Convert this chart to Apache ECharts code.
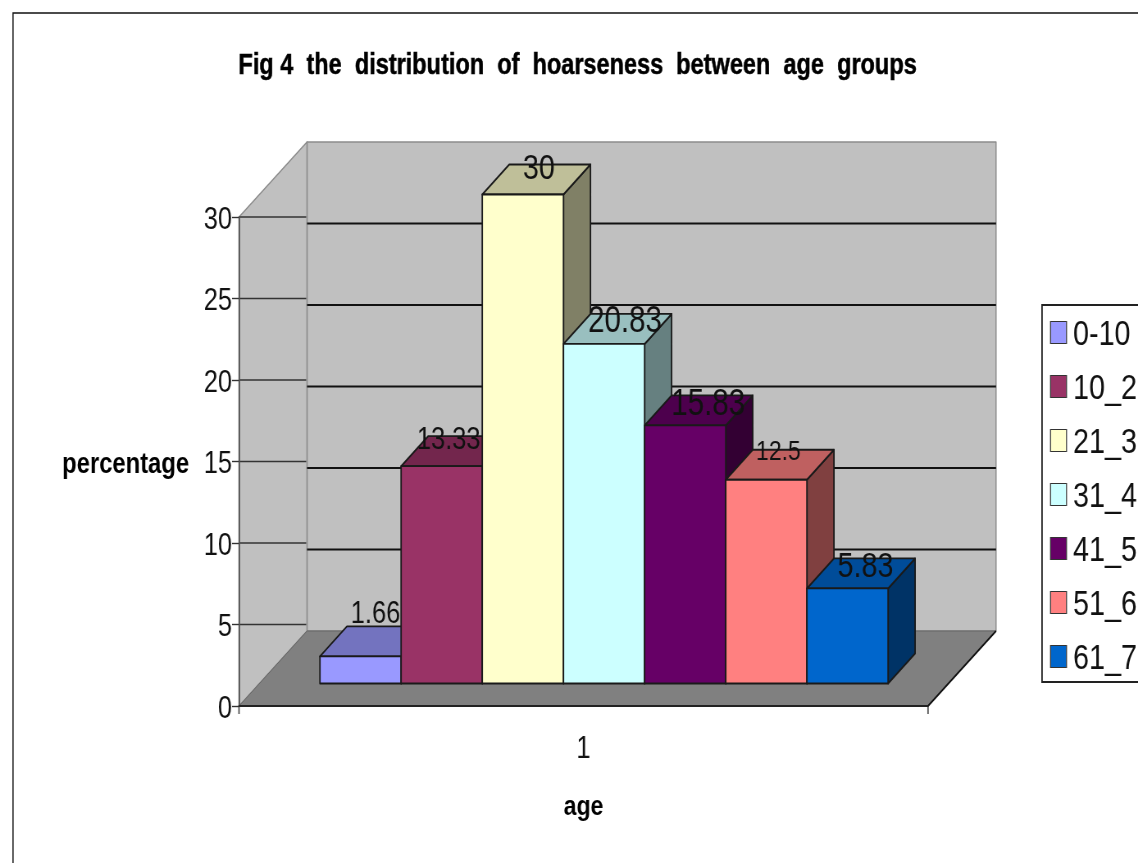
<!DOCTYPE html>
<html>
<head>
<meta charset="utf-8">
<style>
  html, body { margin: 0; padding: 0; background: #fff; overflow: hidden; }
  /* the original picture is squeezed sideways, so the whole chart is too */
  #chart { width: 1388px; height: 863px; transform: scaleX(0.8199); transform-origin: 0 0; }
</style>
<script src="https://cdn.jsdelivr.net/npm/echarts@6/dist/echarts.min.js"></script>
</head>
<body>
<div id="chart"></div>
<script>
const categories = ['1'];
const ageGroups = ['0-10', '10_20', '21_30', '31_40', '41_50', '51_60', '61_70'];
const percentages = [1.66, 13.33, 30, 20.83, 15.83, 12.5, 5.83];
const barColors = ['#9999FF', '#993366', '#FFFFCC', '#CCFFFF', '#660066', '#FF8080', '#0066CC'];
const barTops = ['#7373BF', '#73264D', '#BFBF99', '#99BFBF', '#4D004D', '#BF6060', '#004C99'];
const barSides = ['#4D4D80', '#4D1A33', '#808066', '#668080', '#330033', '#804040', '#003366'];

// Page x to chart x, because of the squeeze
const sx = 1138 / 1388;
const px = x => x / sx;

// Fake 3D offsets, in page pixels
const wallDx = px(68), wallDy = -75;
const frontDx = px(20.5), frontDy = -22.5;
const depthDx = px(27), depthDy = -30;
// The data labels are placed and sized a bit unevenly in the original
const labelNudge = [[15, -42], [7, -26], [16, -25], [21, -22], [23, -20], [12, -27], [18, -21]];
const labelSizes = [31, 31, 35, 36, 36, 28, 35];

const font = '"Liberation Sans", Arial, sans-serif';

function poly(points, fill, stroke, width) {
    return {
        type: 'polygon',
        shape: { points: points },
        style: { fill: fill, stroke: stroke, lineWidth: width, lineJoin: 'round' }
    };
}

function seg(x1, y1, x2, y2, stroke, width) {
    return {
        type: 'line',
        shape: { x1: x1, y1: y1, x2: x2, y2: y2 },
        style: { stroke: stroke, lineWidth: width }
    };
}

// Side wall, back wall, floor and their gridlines
function renderWalls(params, api) {
    const band = api.size([1, 0])[0];
    const centre = api.coord([0, 0]);
    const x0 = centre[0] - band / 2, x1 = centre[0] + band / 2;
    const y0 = centre[1];
    const yTop = api.coord([0, 30])[1];
    const children = [
        poly([[x0 + wallDx, yTop + wallDy], [x1 + wallDx, yTop + wallDy], [x1 + wallDx, y0 + wallDy], [x0 + wallDx, y0 + wallDy]], '#C0C0C0', '#8c8c8c', 1.5),
        poly([[x0, yTop], [x0 + wallDx, yTop + wallDy], [x0 + wallDx, y0 + wallDy], [x0, y0]], '#C0C0C0', '#8c8c8c', 1.5),
        poly([[x0, y0], [x1, y0], [x1 + wallDx, y0 + wallDy], [x0 + wallDx, y0 + wallDy]], '#808080', '#666', 1),
        seg(x1, y0, x1 + wallDx, y0 + wallDy, '#111', 1.8),
        seg(x0, y0, x0, y0 + 8, '#555', 1.8),
        seg(x1, y0, x1, y0 + 8, '#555', 1.8)
    ];
    for (let v = 5; v <= 30; v += 5) {
        const y = api.coord([0, v])[1];
        children.push(seg(x0, y, x0 + wallDx - 1, y, '#333', 1.4));
        if (v < 30) {
            children.push(seg(x0 + wallDx, y + wallDy, x1 + wallDx, y + wallDy, '#111', 1.8));
        }
    }
    return { type: 'group', children: children };
}

function renderBar(params, api) {
    const i = params.seriesIndex - 1;
    const band = api.size([1, 0])[0];
    const w = band * 0.1178;
    const base = api.coord([0, 0]);
    const top = api.coord([0, api.value(1)]);
    const left = base[0] + frontDx - w * ageGroups.length / 2 + i * w;
    const right = left + w;
    const yb = base[1] + frontDy;
    const yt = top[1] + frontDy;
    const edge = '#1a1a1a';
    return {
        type: 'group',
        children: [
            poly([[right, yt], [right + depthDx, yt + depthDy], [right + depthDx, yb + depthDy], [right, yb]], barSides[i], edge, 1.8),
            poly([[left, yt], [left + depthDx, yt + depthDy], [right + depthDx, yt + depthDy], [right, yt]], barTops[i], edge, 1.8),
            poly([[left, yt], [right, yt], [right, yb], [left, yb]], barColors[i], edge, 1.8),
            {
                type: 'text',
                z2: 100,
                style: {
                    x: left + w / 2 + px(labelNudge[i][0]),
                    y: yt + labelNudge[i][1],
                    text: String(api.value(1)),
                    fill: '#111',
                    font: labelSizes[i] + 'px ' + font,
                    align: 'center',
                    verticalAlign: 'middle'
                }
            }
        ]
    };
}

const series = [{
    name: 'walls',
    type: 'custom',
    silent: true,
    renderItem: renderWalls,
    data: [[0, 0]]
}];

ageGroups.forEach((name, i) => {
    series.push({
        name: name,
        type: 'custom',
        renderItem: renderBar,
        encode: { x: 0, y: 1 },
        itemStyle: { color: barColors[i] },
        data: [[0, percentages[i]]]
    });
});

const chart = echarts.init(document.getElementById('chart'));

chart.setOption({
    animation: false,
    backgroundColor: '#fff',
    title: {
        text: 'Fig 4  the  distribution  of  hoarseness  between  age  groups',
        left: px(573.5),
        textAlign: 'center',
        top: 47,
        textStyle: {
            fontFamily: font, fontWeight: 'bold', fontSize: 28.7, color: '#000',
            textBorderColor: '#000', textBorderWidth: 0.5
        }
    },
    legend: {
        data: ageGroups,
        orient: 'vertical',
        left: px(1042),
        top: 305,
        icon: 'rect',
        itemWidth: px(16),
        itemHeight: 22,
        itemGap: 13,
        padding: [7, 110, 5, px(8)],
        borderColor: '#222',
        borderWidth: 1.8,
        backgroundColor: '#fff',
        itemStyle: { borderColor: '#333', borderWidth: 1.2 },
        formatter: name => '{a|' + name + '}',
        textStyle: {
            rich: {
                a: { fontFamily: font, fontSize: 35, lineHeight: 34, color: '#111', padding: [6, 0, 0, 3] }
            }
        }
    },
    grid: { left: px(239), right: px(210), top: 217, bottom: 157, outerBoundsMode: 'none' },
    xAxis: {
        type: 'category',
        data: categories,
        z: 3,
        name: 'age',
        nameLocation: 'middle',
        nameGap: 87,
        nameTextStyle: { fontFamily: font, fontWeight: 'bold', fontSize: 28, color: '#000' },
        axisLine: { lineStyle: { color: '#222', width: 1.8 } },
        axisTick: { show: false },
        axisLabel: { margin: 28, fontFamily: font, fontSize: 31, color: '#111' }
    },
    yAxis: {
        type: 'value',
        min: 0,
        max: 30,
        interval: 5,
        z: 3,
        name: 'percentage',
        nameLocation: 'middle',
        nameRotate: 0,
        nameGap: px(50),
        nameTextStyle: { fontFamily: font, fontWeight: 'bold', fontSize: 29, color: '#000', verticalAlign: 'top', lineHeight: 6 },
        splitLine: { show: false },
        axisLine: { show: true, lineStyle: { color: '#555', width: 1.8 } },
        axisTick: { show: true, length: px(7), lineStyle: { color: '#333', width: 1.4 } },
        axisLabel: { margin: px(7), fontFamily: font, fontSize: 31, color: '#111', verticalAlign: 'top', lineHeight: 6 }
    },
    graphic: [{
        // Chart frame runs off the right and bottom of the page
        type: 'rect',
        z: -1,
        silent: true,
        shape: { x: px(13), y: 13, width: 1600, height: 1000 },
        style: { fill: 'none', stroke: '#111', lineWidth: 1.5 }
    }],
    series: series
});
</script>
</body>
</html>
